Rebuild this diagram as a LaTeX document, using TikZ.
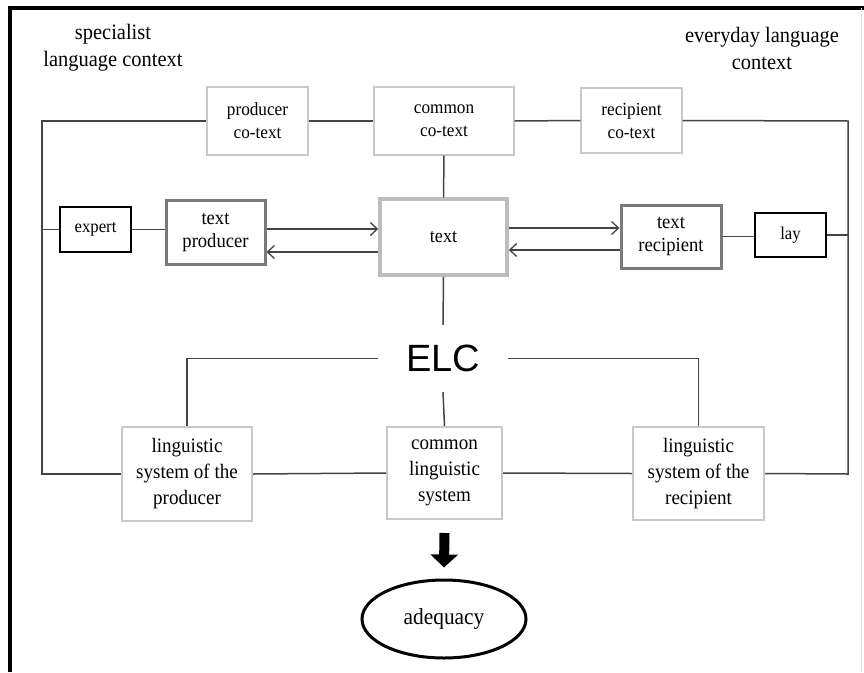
\documentclass[tikz,border=0pt]{standalone}
\usepackage{fontspec}
\setmainfont{Liberation Serif}[FakeStretch=0.93]
\newfontfamily\elcfont{Liberation Sans}
\usetikzlibrary{arrows.meta,shapes.geometric}
\definecolor{lineg}{HTML}{444444}
\definecolor{palebox}{HTML}{C8C8C8}
\definecolor{midbox}{HTML}{7A7A7A}
\definecolor{textbox}{HTML}{BDBDBD}
\tikzset{
  x=1pt, y=-1pt,
  conn/.style={draw=lineg, line width=1.5pt},
  arr/.style={conn, -{Straight Barb[length=7pt,width=13pt,line width=1.3pt]}},
  cobox/.style={draw=palebox, line width=1.3pt, align=center, inner sep=2pt, font=\fontsize{18.5}{23}\selectfont},
  blbox/.style={draw=black, line width=1.2pt, align=center, font=\fontsize{18}{22}\selectfont},
  agbox/.style={draw=midbox, line width=3pt, align=center, inner sep=2pt, font=\fontsize{20}{23}\selectfont},
  txbox/.style={draw=textbox, line width=3.5pt, align=center, font=\fontsize{19.5}{23}\selectfont},
  lsbox/.style={draw=palebox, line width=2pt, align=center, inner sep=2pt, font=\fontsize{20.5}{26}\selectfont},
  headtxt/.style={align=center, font=\fontsize{22}{27}\selectfont},
}
\begin{document}
\begin{tikzpicture}
\useasboundingbox[fill=white] (0,0) rectangle (864,672);
% frame
\draw[line width=4pt, black] (9.5,672) -- (9.5,8) -- (864,8);
\draw[line width=0.6pt, black!12] (861,8) -- (861,672);

% headers
\node[headtxt] (spec) at (113,48) {specialist\\language context};
\node[headtxt] (every) at (762,48) {everyday language\\context};

% co-text row
\node[cobox, minimum width=101pt, minimum height=68pt] (pct) at (257.5,121) {producer\\co-text};
\node[cobox, minimum width=140pt, minimum height=68pt] (cct) at (444,121) {common\\co-text};
\node[cobox, minimum width=101pt, minimum height=65pt] (rct) at (631.5,120.5) {recipient\\co-text};

% middle row
\node[blbox, minimum width=71pt, minimum height=45pt] (exp) at (95.5,229.5) {expert};
\node[agbox, minimum width=99pt, minimum height=64pt] (tp) at (215.5,232) {text\\producer};
\node[txbox, minimum width=127pt, minimum height=76pt] (txt) at (443.5,237) {text};
\node[agbox, minimum width=100pt, minimum height=63pt] (tr) at (671,236.5) {text\\recipient};
\node[blbox, minimum width=71pt, minimum height=44pt] (lay) at (790.5,235) {lay};

% ELC
\node[minimum width=130pt, minimum height=67pt, inner sep=0pt, font=\elcfont\fontsize{38}{38}\selectfont] (elc) at (443,358.5) {ELC};

% linguistic systems
\node[lsbox, minimum width=130pt, minimum height=94pt] (lsp) at (187,474) {linguistic\\system of the\\producer};
\node[lsbox, minimum width=115pt, minimum height=92pt] (cls) at (444.5,473) {common\\linguistic\\system};
\node[lsbox, minimum width=131pt, minimum height=93pt] (lsr) at (698.5,473.5) {linguistic\\system of the\\recipient};

% adequacy
\node[ellipse, draw=black, line width=3pt, minimum width=164pt, minimum height=78pt, inner sep=0pt, font=\fontsize{23}{23}\selectfont] (ade) at (444,619) {adequacy};

% outer loop coordinates
\coordinate (TL) at (42,121);
\coordinate (TR) at (848,121);
\coordinate (BL) at (42,474);
\coordinate (BR) at (848,474);

% top row links
\draw[conn] (pct.west) -- (TL) -- (BL) -- (lsp.west);
\draw[conn] (pct.east) -- (cct.west);
\draw[conn] (cct.east) -- (rct.west);
\draw[conn] (rct.east) -- (TR) -- (BR) -- (lsr.east);

% middle row links
\draw[conn] (exp.west -| TL) -- (exp.west);
\draw[conn] (exp.east) -- (exp.east -| tp.west);
\draw[conn] (tr.east) -- (tr.east -| lay.west);
\draw[conn] (lay.east) -- (lay.east -| TR);
\draw[conn] (cct.south) -- (txt.north);

% arrows text <-> producer / recipient
\draw[arr] ([yshift=8pt]txt.west -| tp.east) -- ([yshift=8pt]txt.west);
\draw[arr] ([yshift=-15pt]txt.west) -- ([yshift=-15pt]txt.west -| tp.east);
\draw[arr] ([yshift=9pt]txt.east) -- ([yshift=9pt]txt.east -| tr.west);
\draw[arr] ([yshift=-13pt]txt.east -| tr.west) -- ([yshift=-13pt]txt.east);

% ELC links
\draw[conn] (txt.south) -- (elc.north);
\draw[conn] (elc.west) -- (elc.west -| lsp.north) -- (lsp.north);
\draw[conn] (elc.east) -- (elc.east -| lsr.north) -- (lsr.north);
\draw[conn] (elc.south) -- (cls.north);

% bottom row links
\draw[conn] (lsp.east) -- (cls.west);
\draw[conn] (cls.east) -- (lsr.west);

% thick arrow
\draw[line width=10pt, black, -{Triangle[length=13pt,width=27pt]}] ([yshift=-13pt]cls.south) -- ([yshift=11pt]ade.north);
\end{tikzpicture}
\end{document}
